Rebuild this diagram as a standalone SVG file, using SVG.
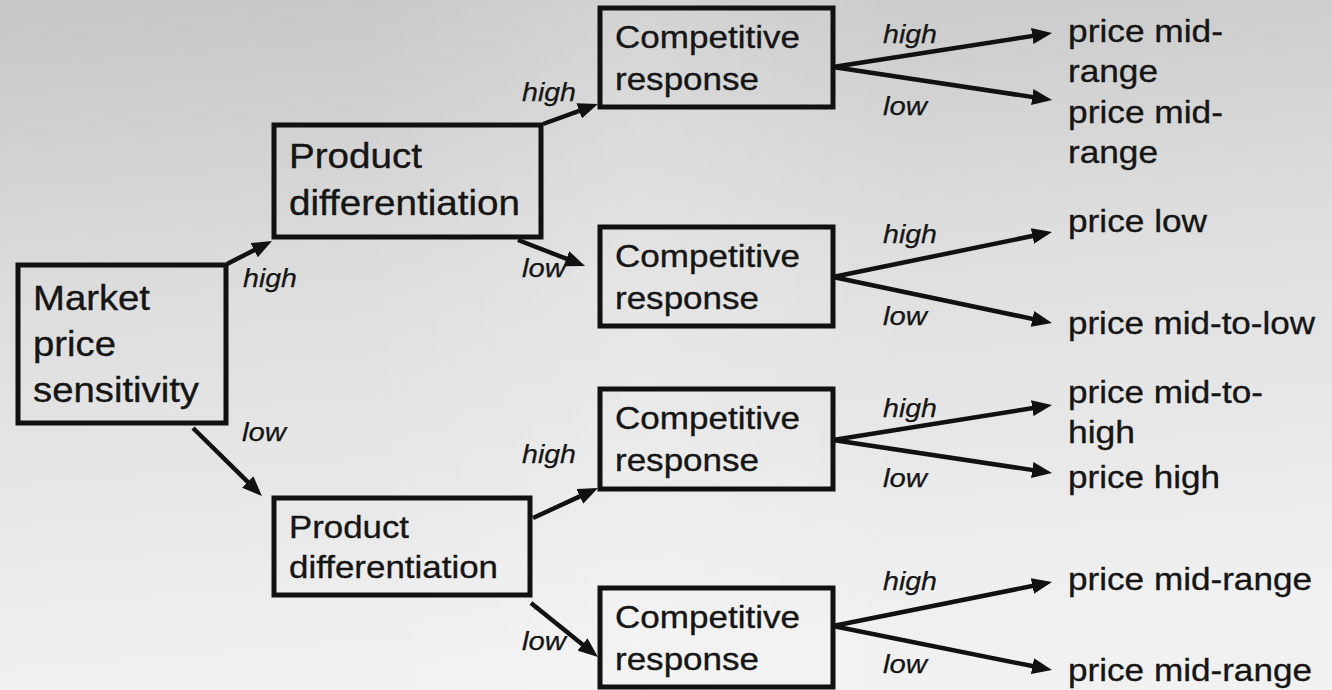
<svg xmlns="http://www.w3.org/2000/svg" width="1332" height="690" viewBox="0 0 1332 690">
  <defs>
    <linearGradient id="bg" x1="0" y1="0" x2="0.15" y2="1">
      <stop offset="0" stop-color="#c6c6c6"/>
      <stop offset="0.45" stop-color="#dedede"/>
      <stop offset="1" stop-color="#f1f1f1"/>
    </linearGradient>
    <linearGradient id="glow" x1="0" y1="0" x2="1" y2="0">
      <stop offset="0" stop-color="#ffffff" stop-opacity="0"/>
      <stop offset="0.5" stop-color="#ffffff" stop-opacity="0.18"/>
      <stop offset="1" stop-color="#ffffff" stop-opacity="0"/>
    </linearGradient>
    <marker id="head" viewBox="0 0 20 16" markerUnits="userSpaceOnUse" markerWidth="20" markerHeight="16" refX="6" refY="8" orient="auto">
      <path d="M0,0 L20,8 L0,16 z" fill="#111"/>
    </marker>
    <style>
      .box { fill: none; stroke: #111; stroke-width: 5; }
      .node { font-family: "Liberation Sans", Arial, sans-serif; fill: #151515; stroke: #151515; stroke-width: 0.35; }
      .big { font-size: 35px; }
      .mid { font-size: 32px; }
      .lbl { font-family: "Liberation Sans", Arial, sans-serif; font-style: italic; font-size: 26px; fill: #151515; stroke: #151515; stroke-width: 0.25; }
      .out { font-family: "Liberation Sans", Arial, sans-serif; font-size: 32px; fill: #151515; stroke: #151515; stroke-width: 0.35; }
      .edge { stroke: #111; stroke-width: 4.5; fill: none; marker-end: url(#head); }
    </style>
  </defs>

  <!-- backdrop -->
  <rect x="0" y="0" width="1332" height="690" fill="url(#bg)"/>
  <rect x="360" y="0" width="560" height="690" fill="url(#glow)"/>

  <!-- root decision -->
  <g id="market">
    <rect class="box" x="18" y="265" width="208" height="158"/>
    <text class="node big" x="33" y="310" textLength="117" lengthAdjust="spacingAndGlyphs">Market</text>
    <text class="node big" x="33" y="356" textLength="83" lengthAdjust="spacingAndGlyphs">price</text>
    <text class="node big" x="33" y="402" textLength="166" lengthAdjust="spacingAndGlyphs">sensitivity</text>
  </g>

  <!-- second level -->
  <g id="diff-high">
    <rect class="box" x="274" y="125" width="267" height="112"/>
    <text class="node big" x="289" y="168" textLength="133" lengthAdjust="spacingAndGlyphs">Product</text>
    <text class="node big" x="289" y="215" textLength="231" lengthAdjust="spacingAndGlyphs">differentiation</text>
  </g>
  <g id="diff-low">
    <rect class="box" x="274" y="498" width="256" height="97"/>
    <text class="node mid" x="289" y="538" textLength="120" lengthAdjust="spacingAndGlyphs">Product</text>
    <text class="node mid" x="289" y="578" textLength="209" lengthAdjust="spacingAndGlyphs">differentiation</text>
  </g>

  <!-- third level -->
  <g id="resp-1">
    <rect class="box" x="600" y="8" width="233" height="99"/>
    <text class="node mid" x="615" y="48" textLength="185" lengthAdjust="spacingAndGlyphs">Competitive</text>
    <text class="node mid" x="615" y="90" textLength="144" lengthAdjust="spacingAndGlyphs">response</text>
  </g>
  <g id="resp-2">
    <rect class="box" x="600" y="227" width="233" height="99"/>
    <text class="node mid" x="615" y="267" textLength="185" lengthAdjust="spacingAndGlyphs">Competitive</text>
    <text class="node mid" x="615" y="309" textLength="144" lengthAdjust="spacingAndGlyphs">response</text>
  </g>
  <g id="resp-3">
    <rect class="box" x="600" y="389" width="233" height="100"/>
    <text class="node mid" x="615" y="429" textLength="185" lengthAdjust="spacingAndGlyphs">Competitive</text>
    <text class="node mid" x="615" y="471" textLength="144" lengthAdjust="spacingAndGlyphs">response</text>
  </g>
  <g id="resp-4">
    <rect class="box" x="600" y="588" width="233" height="99"/>
    <text class="node mid" x="615" y="628" textLength="185" lengthAdjust="spacingAndGlyphs">Competitive</text>
    <text class="node mid" x="615" y="670" textLength="144" lengthAdjust="spacingAndGlyphs">response</text>
  </g>

  <!-- outcomes -->
  <g id="outcome-1">
    <text class="out" x="1068" y="42" textLength="155" lengthAdjust="spacingAndGlyphs">price mid-</text>
    <text class="out" x="1068" y="82" textLength="90" lengthAdjust="spacingAndGlyphs">range</text>
  </g>
  <g id="outcome-2">
    <text class="out" x="1068" y="123" textLength="155" lengthAdjust="spacingAndGlyphs">price mid-</text>
    <text class="out" x="1068" y="163" textLength="90" lengthAdjust="spacingAndGlyphs">range</text>
  </g>
  <g id="outcome-3">
    <text class="out" x="1068" y="232" textLength="139" lengthAdjust="spacingAndGlyphs">price low</text>
  </g>
  <g id="outcome-4">
    <text class="out" x="1068" y="334" textLength="247" lengthAdjust="spacingAndGlyphs">price mid-to-low</text>
  </g>
  <g id="outcome-5">
    <text class="out" x="1068" y="403" textLength="195" lengthAdjust="spacingAndGlyphs">price mid-to-</text>
    <text class="out" x="1068" y="443" textLength="67" lengthAdjust="spacingAndGlyphs">high</text>
  </g>
  <g id="outcome-6">
    <text class="out" x="1068" y="488" textLength="152" lengthAdjust="spacingAndGlyphs">price high</text>
  </g>
  <g id="outcome-7">
    <text class="out" x="1068" y="590" textLength="244" lengthAdjust="spacingAndGlyphs">price mid-range</text>
  </g>
  <g id="outcome-8">
    <text class="out" x="1068" y="681" textLength="244" lengthAdjust="spacingAndGlyphs">price mid-range</text>
  </g>

  <!-- branches -->
  <g id="connectors">
    <line class="edge" x1="227" y1="264" x2="259.5" y2="247.4"/>
    <line class="edge" x1="193" y1="428" x2="252" y2="486.2"/>
    <line class="edge" x1="543" y1="124" x2="584.8" y2="108.8"/>
    <line class="edge" x1="518" y1="240" x2="572" y2="260.9"/>
    <line class="edge" x1="533" y1="518" x2="585.3" y2="493.9"/>
    <line class="edge" x1="531" y1="603" x2="587.1" y2="648.2"/>

    <line class="edge" x1="833" y1="67" x2="1038.2" y2="35.1"/>
    <line class="edge" x1="833" y1="67" x2="1038.2" y2="97.9"/>
    <line class="edge" x1="833" y1="277" x2="1038.3" y2="234.8"/>
    <line class="edge" x1="833" y1="277" x2="1038.3" y2="320.1"/>
    <line class="edge" x1="833" y1="440" x2="1038.2" y2="407.2"/>
    <line class="edge" x1="833" y1="440" x2="1038.2" y2="470.9"/>
    <line class="edge" x1="833" y1="626" x2="1038.3" y2="584.8"/>
    <line class="edge" x1="833" y1="626" x2="1038.3" y2="667.3"/>

    <text class="lbl" x="243" y="287" textLength="54" lengthAdjust="spacingAndGlyphs">high</text>
    <text class="lbl" x="242" y="441" textLength="44" lengthAdjust="spacingAndGlyphs">low</text>
    <text class="lbl" x="522" y="101" textLength="54" lengthAdjust="spacingAndGlyphs">high</text>
    <text class="lbl" x="522" y="277" textLength="44" lengthAdjust="spacingAndGlyphs">low</text>
    <text class="lbl" x="522" y="463" textLength="54" lengthAdjust="spacingAndGlyphs">high</text>
    <text class="lbl" x="522" y="650" textLength="44" lengthAdjust="spacingAndGlyphs">low</text>

    <text class="lbl" x="883" y="43" textLength="54" lengthAdjust="spacingAndGlyphs">high</text>
    <text class="lbl" x="883" y="115" textLength="44" lengthAdjust="spacingAndGlyphs">low</text>
    <text class="lbl" x="883" y="243" textLength="54" lengthAdjust="spacingAndGlyphs">high</text>
    <text class="lbl" x="883" y="325" textLength="44" lengthAdjust="spacingAndGlyphs">low</text>
    <text class="lbl" x="883" y="417" textLength="54" lengthAdjust="spacingAndGlyphs">high</text>
    <text class="lbl" x="883" y="487" textLength="44" lengthAdjust="spacingAndGlyphs">low</text>
    <text class="lbl" x="883" y="590" textLength="54" lengthAdjust="spacingAndGlyphs">high</text>
    <text class="lbl" x="883" y="673" textLength="44" lengthAdjust="spacingAndGlyphs">low</text>
  </g>
</svg>
